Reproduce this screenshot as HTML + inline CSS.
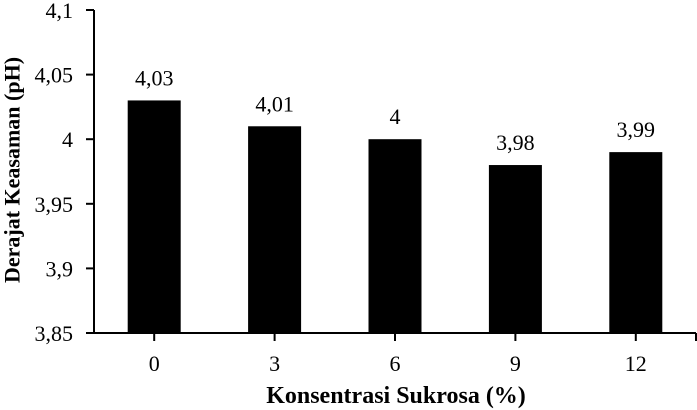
<!DOCTYPE html>
<html><head><meta charset="utf-8"><style>
body{margin:0;background:#fff}
svg{display:block;font-family:"Liberation Serif",serif}
</style></head><body>
<svg id="chart" width="697" height="410">
<g id="axes"></g><g id="bars"></g>
<text x="12" y="170" transform="rotate(-90 12 170)" text-anchor="middle" dominant-baseline="central" font-weight="bold" font-size="22">Derajat Keasaman (pH)</text>
<text x="396" y="403" text-anchor="middle" font-weight="bold" font-size="24">Konsentrasi Sukrosa (%)</text>
</svg>
<script>
const categories=["0","3","6","9","12"];
const values=[4.03,4.01,4.00,3.98,3.99];
const valueLabels=["4,03","4,01","4","3,98","3,99"];
const yTicks=[3.85,3.9,3.95,4.0,4.05,4.1];
const yTickLabels=["3,85","3,9","3,95","4","4,05","4,1"];
const NS="http://www.w3.org/2000/svg";
const x0=94,x1=696,yTop=10,yBot=333,yMin=3.85,yMax=4.1;
const band=(x1-x0)/categories.length,barW=53;
function y(v){return yBot-(v-yMin)/(yMax-yMin)*(yBot-yTop);}
function xc(i){return x0+band*(i+0.5);}
function mk(t,a,p){const e=document.createElementNS(NS,t);for(const k in a)e.setAttribute(k,a[k]);p.appendChild(e);return e;}
const ax=document.getElementById('axes'),bg=document.getElementById('bars');
let l=mk('line',{x1:x0,y1:yTop,x2:x0,y2:yBot,stroke:'#000','stroke-width':2},ax);


l=mk('line',{x1:x0,y1:yBot,x2:x1,y2:yBot,stroke:'#000','stroke-width':2},ax);


yTicks.forEach((v,i)=>{
 const t=mk('line',{x1:x0-8,y1:y(v),x2:x0,y2:y(v),stroke:'#000','stroke-width':2},ax);
 
 
 const tx=mk('text',{x:73,y:y(v)+8,'text-anchor':'end','font-size':22},ax);
 tx.textContent=yTickLabels[i];
 
 
});
for(let i=0;i<=categories.length;i++){
 const xx=i==categories.length?x1:xc(i);
 const t=mk('line',{x1:xx,y1:yBot,x2:xx,y2:yBot+8,stroke:'#000','stroke-width':2},ax);
 
 
}
categories.forEach((c,i)=>{
 const tx=mk('text',{x:xc(i),y:371,'text-anchor':'middle','font-size':22},ax);
 tx.textContent=c;
 
 
 const r=mk('rect',{x:xc(i)-barW/2,y:y(values[i]),width:barW,height:yBot-y(values[i]),fill:'#000'},bg);
 
 
 const vl=mk('text',{x:xc(i),y:y(values[i])-15,'text-anchor':'middle','font-size':22},bg);
 vl.textContent=valueLabels[i];
 
 
});
</script>
</body></html>
